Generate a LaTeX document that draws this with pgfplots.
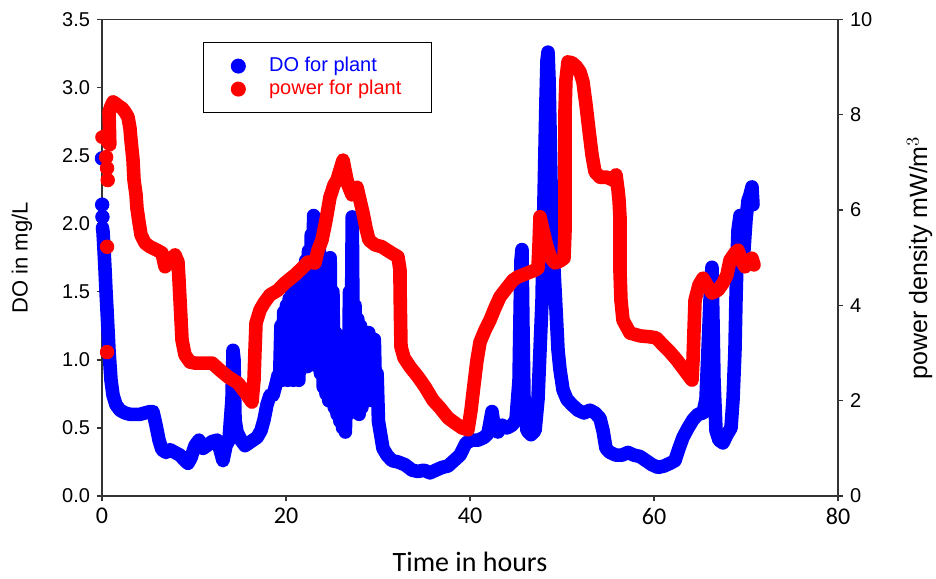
\documentclass[border=0pt]{standalone}
\usepackage{pgfplots}
\pgfplotsset{compat=1.18}
\usepackage{fontspec}
\setmainfont{Liberation Sans}
\newfontfamily\calib{Carlito}
\begin{document}
\begin{tikzpicture}
\path[use as bounding box] (-51pt,-41pt) rectangle (417pt,248pt);
\pgfplotsset{
  common/.style={scale only axis, width=368pt, height=238.25pt,
    xmin=0, xmax=80, at={(0,0)}, anchor=south west, clip=false,
    tick align=outside, major tick length=2.5pt,
    axis line style={line width=0.7pt, black!80},
    every tick/.style={line width=0.7pt, black!80},
    /pgf/number format/assume math mode=true,
    tick label style={font=\fontsize{10}{12}\selectfont}},
}
\begin{axis}[common,
  ymin=0, ymax=3.5,
  ytick={0,0.5,1,1.5,2,2.5,3,3.5},
  yticklabel style={/pgf/number format/fixed, /pgf/number format/fixed zerofill, /pgf/number format/precision=1},
  xtick={0,20,40,60,80},
  xticklabel style={font=\calib\fontsize{12}{14}\selectfont},
  xtick pos=left, ytick pos=left,
  xlabel={Time in hours},
  xlabel style={font=\calib\fontsize{14}{16}\selectfont, at={(axis description cs:0.5,-0.138)}, anchor=center},
  ylabel={DO in mg/L},
  ylabel style={font=\fontsize{11}{13}\selectfont, at={(axis description cs:-0.1087,0.5)}, anchor=center},
  legend style={at={(axis description cs:0.137,0.953)}, anchor=north west, draw=black, line width=0.7pt,
    font=\fontsize{10}{12}\selectfont, inner xsep=14pt, inner ysep=6pt, row sep=0pt, column sep=11pt,
    nodes={inner sep=1pt, text height=7.5pt, text depth=2pt}, cells={anchor=west}},
]
\addlegendimage{only marks, mark=*, blue, mark size=3.4pt}
\addlegendentry{\textcolor{blue}{DO for plant}}
\addlegendimage{only marks, mark=*, red, mark size=3.4pt}
\addlegendentry{\textcolor{red}{power for plant}}
\addplot[forget plot, only marks, mark=*, blue, mark size=3.4pt] coordinates {(0,2.48)(0.02,2.14)(0.05,2.05)};
\addplot[forget plot, blue, line width=6.8pt, line join=round, line cap=round] table {
x y
0.05 1.97
0.11 1.94
0.22 1.81
0.33 1.66
0.43 1.51
0.54 1.37
0.65 1.22
0.76 1.07
0.87 0.96
0.98 0.85
1.20 0.74
1.52 0.67
1.96 0.63
2.50 0.61
3.04 0.60
3.59 0.60
4.13 0.60
4.67 0.61
5.22 0.62
5.54 0.62
5.87 0.52
6.20 0.41
6.52 0.34
6.96 0.32
7.39 0.34
7.93 0.32
8.48 0.30
9.02 0.26
9.35 0.24
9.67 0.28
10.11 0.37
10.54 0.41
10.98 0.35
11.41 0.37
11.96 0.40
12.50 0.41
12.83 0.34
13.15 0.26
13.48 0.37
13.80 0.41
14.13 0.71
14.24 1.07
14.35 1.00
14.46 0.56
14.67 0.47
15.11 0.41
15.54 0.37
15.98 0.39
16.41 0.41
16.85 0.43
17.28 0.48
17.61 0.56
17.93 0.67
18.26 0.74
18.59 0.74
18.91 0.82
19.15 0.89
19.30 0.85
19.45 1.25
19.60 0.85
19.75 1.35
19.90 0.90
20.05 1.40
20.20 0.85
20.35 1.45
20.50 0.95
20.65 1.50
20.80 0.85
20.95 1.52
21.10 0.90
21.25 1.55
21.40 0.85
21.55 1.62
21.70 0.95
21.85 1.60
22.00 1.00
22.15 1.73
22.30 0.95
22.45 1.80
22.60 1.00
22.75 1.92
22.90 1.05
23.00 2.06
23.15 1.10
23.30 1.88
23.45 0.95
23.60 2.03
23.75 0.90
23.90 1.60
24.05 0.80
24.20 1.50
24.35 0.75
24.50 1.60
24.65 0.70
24.80 1.75
24.95 0.75
25.10 1.50
25.25 0.65
25.40 1.20
25.55 0.60
25.70 0.95
25.85 0.55
26.00 0.85
26.15 0.50
26.30 0.70
26.45 0.47
26.60 0.90
26.75 0.60
26.90 1.50
27.05 0.65
27.20 2.05
27.35 0.70
27.50 1.40
27.65 0.65
27.80 1.30
27.95 0.60
28.10 1.25
28.25 0.65
28.40 1.20
28.55 0.70
28.70 1.10
28.85 0.70
29.00 1.20
29.15 0.75
29.30 1.10
29.45 0.70
29.60 1.15
29.75 0.70
29.90 0.90
30.05 0.55
30.22 0.48
30.54 0.35
30.98 0.30
31.52 0.26
32.17 0.25
32.93 0.23
33.70 0.19
34.35 0.18
35.00 0.19
35.65 0.17
36.30 0.19
36.96 0.21
37.61 0.22
38.26 0.26
38.91 0.30
39.57 0.39
40.22 0.41
40.87 0.41
41.52 0.43
41.96 0.46
42.39 0.62
42.61 0.52
43.04 0.47
43.48 0.52
44.02 0.50
44.57 0.52
45.00 0.56
45.33 0.85
45.43 1.29
45.54 1.73
45.65 1.81
45.76 1.22
45.87 0.71
46.20 0.48
46.63 0.45
47.07 0.48
47.39 0.71
47.61 1.07
47.83 1.44
47.93 1.81
48.04 2.17
48.15 2.54
48.26 2.91
48.37 3.20
48.48 3.26
48.59 3.06
48.70 2.69
48.80 2.32
48.91 1.95
49.13 1.66
49.35 1.37
49.57 1.07
49.78 0.93
50.11 0.78
50.54 0.71
51.09 0.67
51.74 0.63
52.39 0.61
53.04 0.63
53.59 0.61
54.13 0.57
54.46 0.48
54.78 0.35
55.22 0.32
55.87 0.30
56.52 0.30
57.17 0.32
57.83 0.30
58.48 0.29
59.13 0.26
59.78 0.23
60.43 0.21
61.09 0.22
61.74 0.24
62.28 0.26
62.72 0.35
63.15 0.43
63.70 0.50
64.24 0.56
64.78 0.60
65.33 0.61
65.65 0.71
65.87 1.07
66.09 1.44
66.30 1.68
66.41 1.29
66.52 0.85
66.74 0.48
67.07 0.41
67.50 0.39
67.93 0.45
68.37 0.50
68.59 0.71
68.80 1.07
68.91 1.44
69.02 1.73
69.13 1.95
69.35 2.06
69.57 1.95
69.78 1.81
70.00 2.03
70.22 2.17
70.43 2.21
70.65 2.27
70.76 2.14
};
\end{axis}
\begin{axis}[common,
  ymin=0, ymax=10, ytick={0,2,4,6,8,10},
  axis x line=none, axis y line*=right,
  ylabel={power density mW/m$^3$},
  ylabel style={font=\fontsize{12.5}{14}\selectfont, at={(axis description cs:1.111,0.5)}, anchor=center, rotate=0},
]
\addplot[red, line width=6.8pt, line join=round, line cap=round] table {
x y
0.00 7.53
0.25 7.55
0.55 7.45
0.85 7.37
0.76 8.06
0.98 8.18
1.20 8.27
1.52 8.23
1.85 8.18
2.17 8.14
2.50 8.06
2.83 7.95
3.04 7.72
3.15 7.47
3.37 7.05
3.48 6.63
3.70 6.32
3.80 6.04
4.02 5.75
4.24 5.48
4.67 5.31
5.22 5.23
5.98 5.16
6.52 5.10
6.85 4.81
7.39 4.91
7.93 5.06
8.26 4.91
8.37 4.53
8.48 4.11
8.59 3.69
8.70 3.27
9.02 2.96
9.57 2.81
10.11 2.79
11.20 2.79
11.96 2.79
12.83 2.64
13.70 2.50
14.78 2.37
15.54 2.18
16.30 1.97
16.52 2.43
16.63 3.06
16.74 3.63
17.17 3.90
17.61 4.05
18.26 4.22
19.13 4.32
19.89 4.47
20.98 4.64
21.74 4.78
22.39 4.91
23.15 4.89
23.48 5.16
23.91 5.37
24.35 5.79
24.78 6.27
25.22 6.53
25.54 6.63
25.87 6.84
26.20 7.05
26.41 6.84
26.74 6.53
27.17 6.32
27.72 6.48
28.04 6.21
28.37 5.94
28.70 5.62
29.02 5.37
29.67 5.27
30.43 5.23
31.30 5.12
32.17 5.02
32.39 4.74
32.40 4.32
32.45 3.69
32.50 3.13
32.83 2.90
33.48 2.71
34.35 2.50
35.11 2.29
35.98 2.01
36.74 1.85
37.61 1.64
38.37 1.53
39.13 1.43
39.78 1.39
40.11 1.80
40.43 2.33
40.76 2.85
41.09 3.23
41.63 3.48
42.17 3.69
42.72 3.95
43.26 4.18
44.02 4.37
44.67 4.53
45.22 4.60
45.76 4.64
46.52 4.70
47.07 4.74
47.39 4.78
47.50 5.27
47.61 5.86
47.93 5.58
48.37 5.23
48.80 4.99
49.24 4.89
49.78 4.93
50.22 4.99
50.33 5.58
50.33 6.21
50.33 6.84
50.33 7.47
50.33 8.10
50.43 8.73
50.65 9.11
51.09 9.09
51.52 9.02
51.96 8.90
52.28 8.69
52.61 8.21
52.93 7.68
53.26 7.16
53.59 6.80
54.13 6.69
54.89 6.69
55.54 6.63
55.87 6.74
56.09 6.42
56.20 6.21
56.30 5.86
56.30 5.37
56.30 4.74
56.41 4.11
56.63 3.69
57.39 3.42
58.48 3.36
59.57 3.34
60.22 3.32
60.98 3.17
61.74 3.02
62.50 2.85
63.04 2.71
63.70 2.54
64.13 2.43
64.24 2.85
64.35 3.48
64.46 4.11
64.89 4.43
65.33 4.57
65.87 4.39
66.30 4.26
66.96 4.32
67.50 4.47
67.93 4.64
68.26 4.95
68.80 5.10
69.13 5.16
69.57 4.91
69.89 4.81
70.33 4.95
70.65 4.99
70.87 4.85
};
\addplot[only marks, mark=*, red, mark size=3.4pt] coordinates {(0.45,7.11)(0.55,6.88)(0.62,6.63)(0.55,5.23)(0.55,3.02)};
\end{axis}
\end{tikzpicture}
\end{document}
